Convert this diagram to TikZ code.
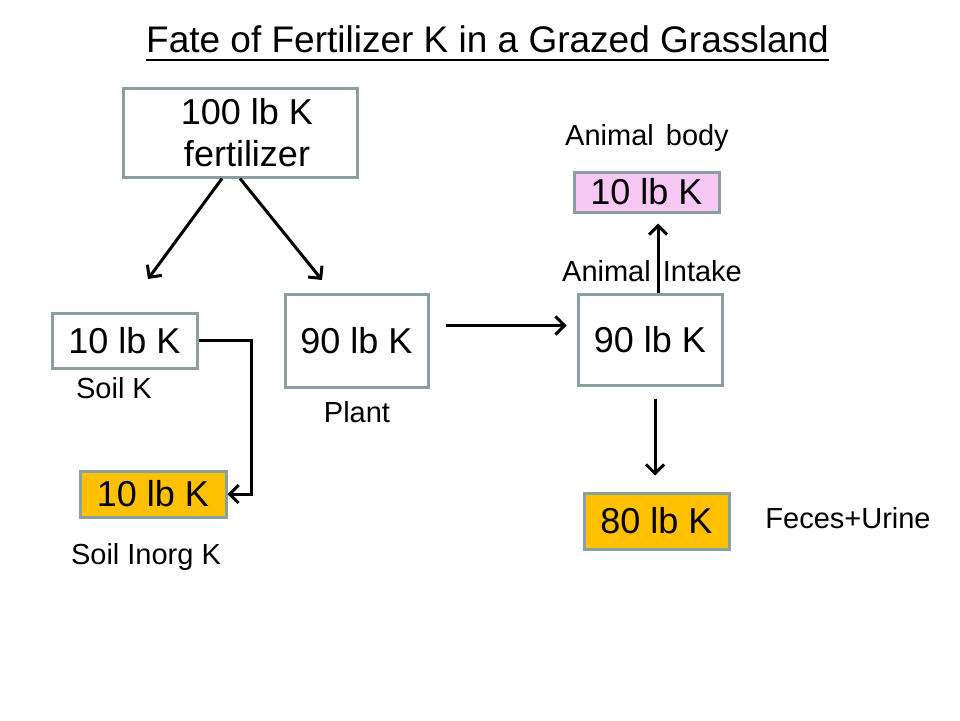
\documentclass[tikz,border=0pt]{standalone}
\usepackage{fontspec}
\setmainfont{Liberation Sans}
\usepackage{xcolor}
\usetikzlibrary{positioning, calc, arrows.meta}
\definecolor{boxgray}{RGB}{138,160,160}
\definecolor{potorange}{RGB}{255,192,0}
\definecolor{bodypink}{RGB}{248,200,244}

\begin{document}
\begin{tikzpicture}[x=1pt, y=-1pt,
  pool/.style={draw=boxgray, line width=3pt, fill=white, text=black, inner sep=0pt, font=\fontsize{36}{42}\selectfont},
  tag/.style={inner sep=0pt, text=black, font=\fontsize{29}{34}\selectfont},
  flow/.style={line width=3pt, -{Straight Barb[length=9pt,width=18pt]}}]
\useasboundingbox[fill=white] (0,0) rectangle (960,720);

% title
\node[anchor=base, inner sep=0pt, font=\fontsize{37}{40}\selectfont] (title) at (487.5,52) {Fate of Fertilizer K in a Grazed Grassland};
\draw[line width=2.5pt] ([yshift=-8pt]title.base west) -- ([yshift=-8pt]title.base east);

% pools
\node[pool, minimum width=234pt, minimum height=89pt, align=center] (fert) at (240,132.5) {\hspace*{14pt}100 lb K\\\hspace*{14pt}fertilizer};
\node[pool, minimum width=145pt, minimum height=55pt] (soil) at (124.5,340.5) {10 lb K};
\node[pool, minimum width=143pt, minimum height=93pt] (plant) at (356.5,340.5) {90 lb K};
\node[pool, fill=potorange, minimum width=146pt, minimum height=46pt] (inorg) at (153,494) {10 lb K};
\node[pool, minimum width=144pt, minimum height=91pt] (intake) at (650,339.5) {90 lb K};
\node[pool, fill=bodypink, minimum width=145pt, minimum height=40pt] (body) at (646.5,192) {10 lb K};
\node[pool, fill=potorange, minimum width=145pt, minimum height=56pt] (feces) at (656.5,521) {80 lb K};

% labels
\node[tag] (soillbl) at (114,388) {Soil K};
\node[tag] (plantlbl) at (357,412) {Plant};
\node[tag] (inorglbl) at (146,557) {Soil Inorg K};
\node[tag] (intakelbl) at (652,271) {Animal\hspace{4pt} Intake};
\node[tag] (bodylbl) at (647,138) {Animal\hspace{4pt} body};
\node[tag] (feceslbl) at (848,518) {Feces+Urine};

% flows
\coordinate (soiltip) at (148,279);
\coordinate (planttip) at (322,280);
\draw[flow] ([xshift=-18pt]fert.south) -- (soiltip);
\draw[flow] (fert.south) -- (planttip);
\draw[flow] (soil.east) -- ++(53,0) |- (inorg.east);
\draw[flow] ([xshift=16pt,yshift=15pt]plant.east) -- ([xshift=-10pt,yshift=14pt]intake.west);
\draw[flow] ([xshift=8pt]intake.north) -- ([xshift=11.5pt,yshift=-10pt]body.south);
\draw[flow] ([xshift=5pt,yshift=-12pt]intake.south) -- ([xshift=-1.5pt,yshift=16pt]feces.north);

\end{tikzpicture}
\end{document}
